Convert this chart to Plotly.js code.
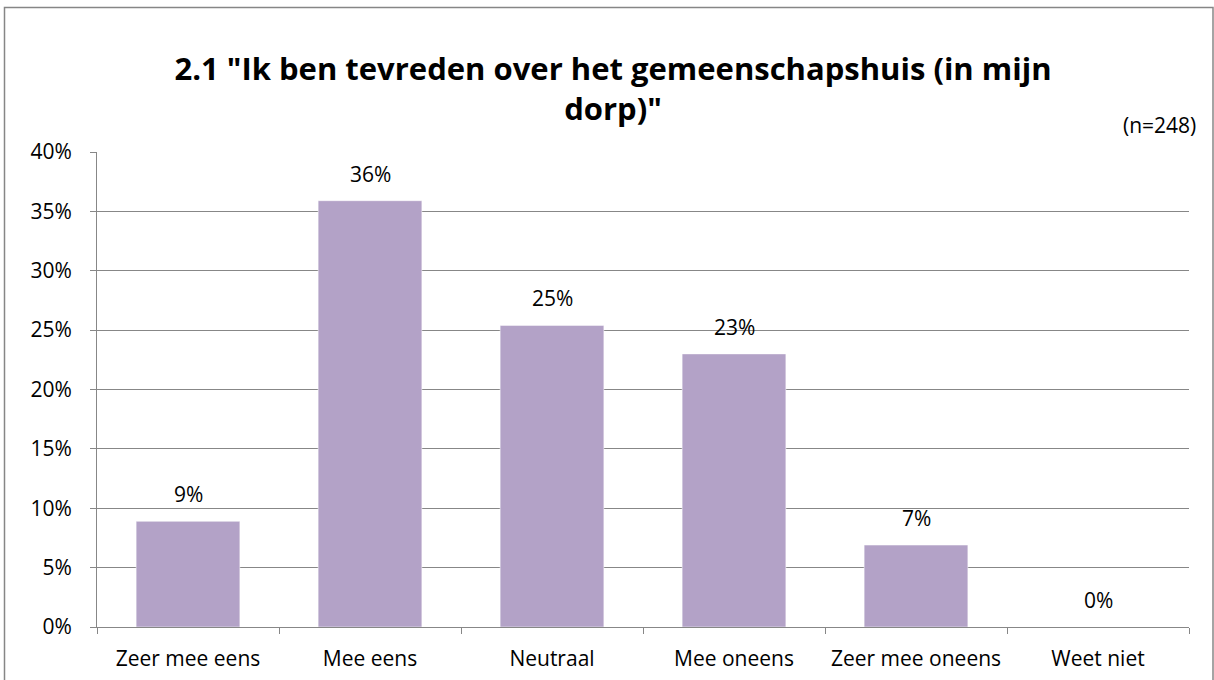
<!DOCTYPE html>
<html>
<head>
<meta charset="utf-8">
<script src="https://cdn.plot.ly/plotly-3.0.1.min.js"></script>
<style>
  html, body { margin: 0; padding: 0; background: #ffffff; }
  #chart { width: 1214px; height: 680px; }
</style>
</head>
<body>
<div id="chart"></div>
<script>
// ---- data ----
const categories = ["Zeer mee eens", "Mee eens", "Neutraal", "Mee oneens", "Zeer mee oneens", "Weet niet"];
const percentages = [8.9, 35.9, 25.4, 23.0, 6.9, 0.0];
const yTickValues = [0, 5, 10, 15, 20, 25, 30, 35, 40];
const titleText = '2.1 "Ik ben tevreden over het gemeenschapshuis (in mijn<br>dorp)"';
const sampleNote = "(n=248)";

// ---- style ----
const FONT = "Open Sans, Liberation Sans, sans-serif";
const BAR_COLOR = "#B3A2C7";
const GRID = "#878787";

const trace = {
  type: "bar",
  x: categories,
  y: percentages,
  marker: { color: BAR_COLOR, line: { color: "#ffffff", width: 0.5 } },
  hoverinfo: "x+y",
  showlegend: false
};

const labelAnnotations = categories.map((c, i) => ({
  x: c,
  y: percentages[i],
  xref: "x",
  yref: "y",
  text: Math.round(percentages[i]) + "%",
  showarrow: false,
  yanchor: "bottom",
  yshift: 11,
  font: { family: FONT, size: 21, color: "#000000" }
}));

// plot area: x 97..1189, y 152..627
const L = 97, R = 25, T = 152, B = 53;
const W = 1214, H = 680;
const pw = W - L - R, ph = H - T - B;

const layout = {
  width: W,
  height: H,
  margin: { l: L, r: R, t: T, b: B, pad: 0 },
  paper_bgcolor: "#ffffff",
  plot_bgcolor: "#ffffff",
  font: { family: FONT, size: 21, color: "#000000" },
  title: {
    text: titleText,
    font: { family: FONT, size: 31, color: "#000000", weight: "bold" },
    xref: "container",
    yref: "container",
    x: 613 / W,
    xanchor: "center",
    y: 1 - 80 / H,
    yanchor: "middle"
  },
  bargap: 0.43,
  xaxis: {
    type: "category",
    showgrid: false,
    showline: true,
    linecolor: GRID,
    linewidth: 1,
    ticks: "outside",
    tickson: "boundaries",
    ticklen: 6,
    tickcolor: GRID,
    tickwidth: 1,
    ticklabelstandoff: 13,
    tickfont: { family: FONT, size: 21, color: "#000000" },
    zeroline: false
  },
  yaxis: {
    range: [0, 40],
    tickvals: yTickValues,
    ticktext: yTickValues.map(v => v + "%"),
    showgrid: true,
    gridcolor: GRID,
    gridwidth: 1,
    showline: true,
    linecolor: GRID,
    linewidth: 1,
    ticks: "outside",
    ticklen: 6,
    tickcolor: GRID,
    tickwidth: 1,
    ticklabelstandoff: 14,
    tickfont: { family: FONT, size: 21, color: "#000000" },
    zeroline: false
  },
  annotations: labelAnnotations.concat([{
    text: sampleNote,
    xref: "paper",
    yref: "paper",
    x: (1198 - L) / pw,
    xanchor: "right",
    y: (627 - 125) / ph,
    yanchor: "middle",
    showarrow: false,
    font: { family: FONT, size: 21, color: "#000000" }
  }]),
  shapes: [{
    type: "rect",
    xref: "paper",
    yref: "paper",
    x0: (4.5 - L) / pw,
    x1: (1213 - L) / pw,
    y0: (627 - 700) / ph,
    y1: (627 - 7.5) / ph,
    line: { color: "#868686", width: 1.5 },
    fillcolor: "rgba(0,0,0,0)",
    layer: "below"
  }]
};

Plotly.newPlot("chart", [trace], layout, { displayModeBar: false, staticPlot: true });
</script>
</body>
</html>
